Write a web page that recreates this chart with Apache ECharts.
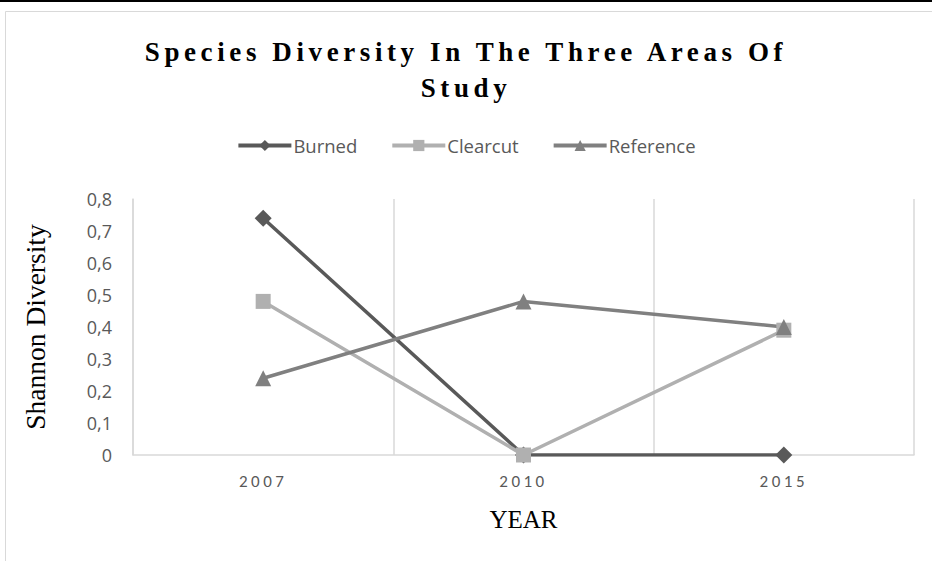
<!DOCTYPE html>
<html>
<head>
<meta charset="utf-8">
<script src="https://cdn.jsdelivr.net/npm/echarts@6/dist/echarts.min.js"></script>
<style>
  html, body { margin: 0; padding: 0; background: #fff; }
  #chart { width: 932px; height: 561px; }
  /* spaced lettering for the title and the year labels */
  #chart text[style*="bold"] { letter-spacing: 4.6px; }
  #chart text[style*="Carlito"] { letter-spacing: 3.5px; }
</style>
</head>
<body>
<div id="chart"></div>
<script>
const years = ['2007', '2010', '2015'];
const burned = [0.74, 0, 0];
const clearcut = [0.48, 0, 0.39];
const reference = [0.24, 0.48, 0.40];
const yTicks = [0, 0.1, 0.2, 0.3, 0.4, 0.5, 0.6, 0.7, 0.8];

const labelFont = "'Open Sans', 'Noto Sans', sans-serif";
const serifFont = "'Liberation Serif', 'DejaVu Serif', serif";

const chart = echarts.init(document.getElementById('chart'), null, { renderer: 'svg' });

function lineSeries(name, data, color, symbol, size) {
  return {
    name: name,
    type: 'line',
    data: data,
    symbol: symbol,
    symbolSize: size,
    showSymbol: true,
    lineStyle: { color: color, width: 3.5 },
    itemStyle: { color: color, borderWidth: 0 },
    emphasis: { disabled: true },
    z: 3
  };
}

chart.setOption({
  animation: false,
  backgroundColor: '#ffffff',
  title: {
    text: 'Species Diversity In The Three Areas Of\nStudy',
    left: 'center',
    top: 29,
    textStyle: {
      fontFamily: serifFont,
      fontWeight: 'bold',
      fontSize: 27,
      lineHeight: 36,
      color: '#000000'
    }
  },
  graphic: [
    { type: 'rect', shape: { x: 0, y: 0, width: 932, height: 2 }, style: { fill: '#000000' }, silent: true },
    { type: 'rect', shape: { x: 5.5, y: 11.5, width: 940, height: 560 }, style: { fill: 'none', stroke: '#d9d9d9', lineWidth: 1 }, silent: true }
  ],
  legend: {
    top: 131,
    left: 'center',
    itemWidth: 53,
    itemHeight: 14,
    itemGap: 33,
    lineStyle: { width: 4 },
    textStyle: { fontFamily: labelFont, fontSize: 18.5, color: '#595959', padding: [0, 0, 0, -3] },
    data: ['Burned', 'Clearcut', 'Reference']
  },
  grid: { left: 133, right: 18, top: 199, bottom: 106, containLabel: false },
  xAxis: {
    type: 'category',
    data: years,
    boundaryGap: true,
    name: 'YEAR',
    nameLocation: 'middle',
    nameGap: 52,
    nameTextStyle: { fontFamily: serifFont, fontSize: 25, color: '#000000' },
    axisLine: { show: true, lineStyle: { color: '#d9d9d9', width: 1.5 } },
    axisTick: { show: false },
    axisLabel: {
      margin: 18,
      fontFamily: "Carlito, " + labelFont,
      fontSize: 17,
      color: '#595959'
    },
    splitLine: { show: true, lineStyle: { color: '#d9d9d9', width: 1.5 } }
  },
  yAxis: {
    type: 'value',
    min: 0,
    max: 0.8,
    interval: 0.1,
    name: 'Shannon Diversity',
    nameLocation: 'middle',
    nameGap: 84,
    nameRotate: 90,
    nameTextStyle: { fontFamily: serifFont, fontSize: 27.5, color: '#000000' },
    axisLine: { show: true, lineStyle: { color: '#d9d9d9', width: 1.5 } },
    axisTick: { show: false },
    splitLine: { show: false },
    axisLabel: {
      margin: 21,
      fontFamily: labelFont,
      fontSize: 18,
      color: '#595959',
      customValues: yTicks,
      formatter: function (v) { return v === 0 ? '0' : v.toFixed(1).replace('.', ','); }
    }
  },
  series: [
    lineSeries('Burned', burned, '#595959', 'diamond', 17),
    lineSeries('Clearcut', clearcut, '#b0b0b0', 'rect', 15),
    lineSeries('Reference', reference, '#808080', 'triangle', 16)
  ]
});
</script>
</body>
</html>
